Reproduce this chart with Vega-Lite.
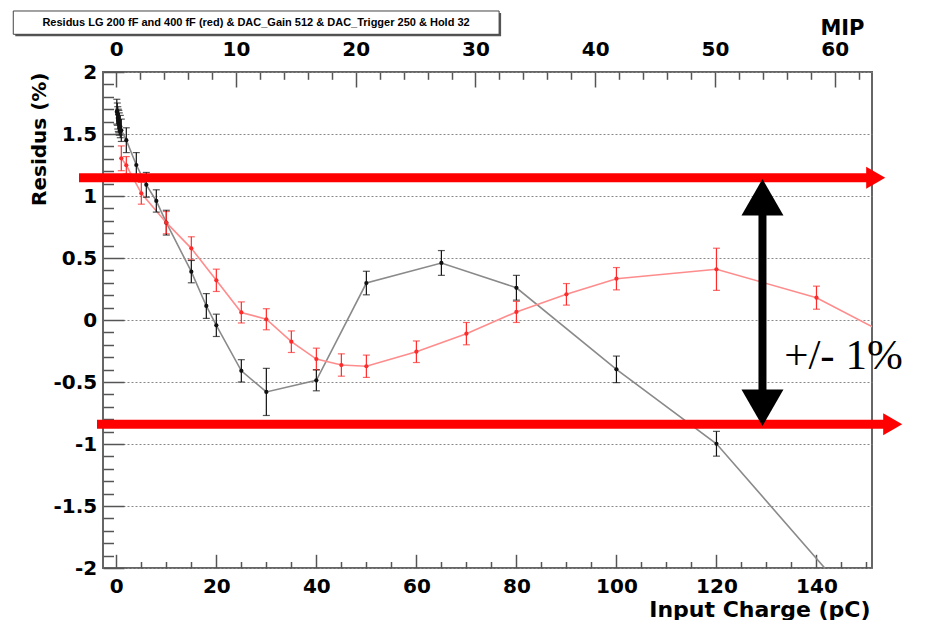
{
  "$schema": "https://vega.github.io/schema/vega-lite/v6.json",
  "width": 769,
  "height": 496,
  "autosize": {"type": "none"},
  "padding": {"left": 103, "top": 72, "right": 54, "bottom": 52},
  "background": "white",
  "config": {
    "view": {"stroke": "#666", "strokeWidth": 2},
    "axis": {
      "labelFont": "DejaVu Sans", "labelFontWeight": "bold", "labelFontSize": 20, "labelColor": "#000",
      "titleFont": "DejaVu Sans", "titleFontWeight": "bold", "titleColor": "#000",
      "domain": false, "tickColor": "#555", "tickWidth": 1.5, "labelOverlap": false, "labelFlush": false, "grid": false
    }
  },
  "data": {"values": [
    {"series": "200 fF", "pC": 0.1, "res": 1.68, "err": 0.1},
    {"series": "200 fF", "pC": 0.2, "res": 1.66, "err": 0.09},
    {"series": "200 fF", "pC": 0.3, "res": 1.63, "err": 0.09},
    {"series": "200 fF", "pC": 0.4, "res": 1.61, "err": 0.09},
    {"series": "200 fF", "pC": 0.5, "res": 1.6, "err": 0.09},
    {"series": "200 fF", "pC": 0.6, "res": 1.58, "err": 0.09},
    {"series": "200 fF", "pC": 0.8, "res": 1.56, "err": 0.09},
    {"series": "200 fF", "pC": 1, "res": 1.53, "err": 0.09},
    {"series": "200 fF", "pC": 2, "res": 1.45, "err": 0.1},
    {"series": "200 fF", "pC": 4, "res": 1.25, "err": 0.1},
    {"series": "200 fF", "pC": 6, "res": 1.09, "err": 0.1},
    {"series": "200 fF", "pC": 8, "res": 0.96, "err": 0.09},
    {"series": "200 fF", "pC": 10, "res": 0.785, "err": 0.1},
    {"series": "200 fF", "pC": 15, "res": 0.39, "err": 0.09},
    {"series": "200 fF", "pC": 18, "res": 0.113, "err": 0.1},
    {"series": "200 fF", "pC": 20, "res": -0.043, "err": 0.09},
    {"series": "200 fF", "pC": 25, "res": -0.41, "err": 0.09},
    {"series": "200 fF", "pC": 30, "res": -0.58, "err": 0.19},
    {"series": "200 fF", "pC": 40, "res": -0.486, "err": 0.085},
    {"series": "200 fF", "pC": 50, "res": 0.298, "err": 0.095},
    {"series": "200 fF", "pC": 65, "res": 0.46, "err": 0.1},
    {"series": "200 fF", "pC": 80, "res": 0.26, "err": 0.1},
    {"series": "200 fF", "pC": 100, "res": -0.398, "err": 0.107},
    {"series": "200 fF", "pC": 120, "res": -0.998, "err": 0.1},
    {"series": "200 fF", "pC": 160, "res": -2.85, "err": 0.1},
    {"series": "400 fF", "pC": 1, "res": 1.304, "err": 0.1},
    {"series": "400 fF", "pC": 2, "res": 1.248, "err": 0.07},
    {"series": "400 fF", "pC": 5, "res": 1.022, "err": 0.088},
    {"series": "400 fF", "pC": 10, "res": 0.785, "err": 0.09},
    {"series": "400 fF", "pC": 15, "res": 0.578, "err": 0.093},
    {"series": "400 fF", "pC": 20, "res": 0.32, "err": 0.09},
    {"series": "400 fF", "pC": 25, "res": 0.061, "err": 0.085},
    {"series": "400 fF", "pC": 30, "res": 0.006, "err": 0.085},
    {"series": "400 fF", "pC": 35, "res": -0.175, "err": 0.087},
    {"series": "400 fF", "pC": 40, "res": -0.315, "err": 0.088},
    {"series": "400 fF", "pC": 45, "res": -0.363, "err": 0.09},
    {"series": "400 fF", "pC": 50, "res": -0.373, "err": 0.09},
    {"series": "400 fF", "pC": 60, "res": -0.256, "err": 0.087},
    {"series": "400 fF", "pC": 70, "res": -0.11, "err": 0.09},
    {"series": "400 fF", "pC": 80, "res": 0.065, "err": 0.085},
    {"series": "400 fF", "pC": 90, "res": 0.207, "err": 0.087},
    {"series": "400 fF", "pC": 100, "res": 0.333, "err": 0.09},
    {"series": "400 fF", "pC": 120, "res": 0.409, "err": 0.17},
    {"series": "400 fF", "pC": 140, "res": 0.18, "err": 0.093},
    {"series": "400 fF", "pC": 160, "res": -0.24, "err": 0.09}
  ]},
  "resolve": {"axis": {"x": "independent", "y": "independent"}},
  "layer": [
    {
      "mark": {"type": "line", "clip": true, "strokeWidth": 1.6},
      "encoding": {
        "x": {"field": "pC", "type": "quantitative", "scale": {"domain": [-2.66, 151.1], "nice": false, "zero": false},
          "axis": {
            "orient": "bottom",
            "values": [0, 20, 40, 60, 80, 100, 120, 140],
            "labelExpr": "'' + datum.value",
            "tickSize": -13.7,
            "labelPadding": 22.2,
            "title": "Input Charge (pC)", "titleFontSize": 22,
            "titleX": 767, "titleY": 48, "titleAlign": "right", "titleBaseline": "alphabetic", "titleAnchor": null
          }
        },
        "y": {"field": "res", "type": "quantitative", "scale": {"domain": [-2, 2], "nice": false, "zero": false},
          "axis": {
            "orient": "left",
            "values": [-2, -1.5, -1, -0.5, 0, 0.5, 1, 1.5, 2],
            "labelExpr": "'' + datum.value",
            "tickSize": -21,
            "labelPadding": 27.3,
            "grid": true,
            "gridColor": "#888", "gridDash": [2, 2], "gridWidth": 1,
            "title": "Residus (%)", "titleFontSize": 20,
            "titleX": -58, "titleY": 0, "titleAngle": -90, "titleAlign": "right", "titleBaseline": "alphabetic", "titleAnchor": null
          }
        },
        "stroke": {"field": "series", "type": "nominal", "scale": {"domain": ["200 fF", "400 fF"], "range": ["#8a8a8a", "#ff8c8c"]}, "legend": null}
      }
    },
    {
      "transform": [{"filter": "datum.pC < 151"}],
      "mark": {"type": "errorbar", "ticks": {"size": 7}, "thickness": 1.2},
      "encoding": {
        "x": {"field": "pC", "type": "quantitative", "scale": {"domain": [-2.66, 151.1], "nice": false, "zero": false}, "axis": null},
        "y": {"field": "res", "type": "quantitative", "scale": {"domain": [-2, 2], "nice": false, "zero": false}, "axis": null},
        "yError": {"field": "err"},
        "color": {"field": "series", "type": "nominal", "scale": {"domain": ["200 fF", "400 fF"], "range": ["#111111", "#ff2a2a"]}, "legend": null}
      }
    },
    {
      "transform": [{"filter": "datum.pC < 151"}],
      "mark": {"type": "point", "filled": true, "size": 18, "opacity": 1},
      "encoding": {
        "x": {"field": "pC", "type": "quantitative", "scale": {"domain": [-2.66, 151.1], "nice": false, "zero": false},
          "axis": {
            "orient": "top",
            "values": [0, 23.94, 47.88, 71.82, 95.76, 119.7, 143.64],
            "labelExpr": "'' + round(datum.value/2.394)",
            "tickSize": -15,
            "labelPadding": 28,
            "title": "MIP", "titleFontSize": 21,
            "titleX": 761, "titleY": -38, "titleAlign": "right", "titleBaseline": "alphabetic", "titleAnchor": null
          }
        },
        "y": {"field": "res", "type": "quantitative", "scale": {"domain": [-2, 2], "nice": false, "zero": false},
          "axis": {
            "orient": "left",
            "values": [-1.9,-1.8,-1.7,-1.6,-1.4,-1.3,-1.2,-1.1,-0.9,-0.8,-0.7,-0.6,-0.4,-0.3,-0.2,-0.1,0.1,0.2,0.3,0.4,0.6,0.7,0.8,0.9,1.1,1.2,1.3,1.4,1.6,1.7,1.8,1.9],
            "labels": false, "tickSize": -10.5, "title": null, "grid": false
          }
        },
        "color": {"field": "series", "type": "nominal", "scale": {"domain": ["200 fF", "400 fF"], "range": ["#111111", "#ff2a2a"]}, "legend": null}
      }
    },
    {
      "data": {"values": [
        {"x1": -7.46, "x2": 151.84, "y": 1.148},
        {"x1": -3.86, "x2": 155.24, "y": -0.841}
      ]},
      "mark": {"type": "rule", "color": "#ff0000", "strokeWidth": 9},
      "encoding": {
        "x": {"field": "x1", "type": "quantitative", "scale": {"domain": [-2.66, 151.1], "nice": false, "zero": false},
          "axis": {
            "orient": "bottom",
            "values": [5,10,15,25,30,35,45,50,55,65,70,75,85,90,95,105,110,115,125,130,135,145,150],
            "labels": false, "tickSize": -6.5, "title": null, "grid": false
          }
        },
        "x2": {"field": "x2"},
        "y": {"field": "y", "type": "quantitative", "scale": {"domain": [-2, 2], "nice": false, "zero": false}, "axis": null}
      }
    },
    {
      "data": {"values": [
        {"x": 151.84, "y": 1.148},
        {"x": 155.24, "y": -0.841}
      ]},
      "mark": {"type": "point", "shape": "triangle-right", "size": 484, "filled": true, "color": "#ff0000", "opacity": 1, "strokeWidth": 0},
      "encoding": {
        "x": {"field": "x", "type": "quantitative", "scale": {"domain": [-2.66, 151.1], "nice": false, "zero": false},
          "axis": {
            "orient": "top",
            "values": [4.788,9.576,14.364,19.152,28.728,33.516,38.304,43.092,52.668,57.456,62.244,67.032,76.608,81.396,86.184,90.972,100.548,105.336,110.124,114.912,124.488,129.276,134.064,138.852,148.428],
            "labels": false, "tickSize": -7.3, "title": null, "grid": false
          }
        },
        "y": {"field": "y", "type": "quantitative", "scale": {"domain": [-2, 2], "nice": false, "zero": false}, "axis": null}
      }
    },
    {
      "data": {"values": [{"x": 129.2, "y1": 0.99, "y2": -0.708}]},
      "mark": {"type": "rule", "color": "#000000", "strokeWidth": 8},
      "encoding": {
        "x": {"field": "x", "type": "quantitative", "scale": {"domain": [-2.66, 151.1], "nice": false, "zero": false}, "axis": null},
        "y": {"field": "y1", "type": "quantitative", "scale": {"domain": [-2, 2], "nice": false, "zero": false}, "axis": null},
        "y2": {"field": "y2"}
      }
    },
    {
      "data": {"values": [
        {"x": 129.2, "y": 0.99, "dir": "up"},
        {"x": 129.2, "y": -0.708, "dir": "down"}
      ]},
      "mark": {"type": "point", "size": 1764, "filled": true, "color": "#000000", "opacity": 1, "strokeWidth": 0},
      "encoding": {
        "x": {"field": "x", "type": "quantitative", "scale": {"domain": [-2.66, 151.1], "nice": false, "zero": false}, "axis": null},
        "y": {"field": "y", "type": "quantitative", "scale": {"domain": [-2, 2], "nice": false, "zero": false}, "axis": null},
        "shape": {"field": "dir", "type": "nominal", "scale": {"domain": ["up", "down"], "range": ["triangle-up", "triangle-down"]}, "legend": null}
      }
    },
    {
      "data": {"values": [{"x": 133.54, "y": -0.393, "label": "+/- 1%"}]},
      "mark": {"type": "text", "align": "left", "baseline": "alphabetic", "font": "Liberation Serif", "fontSize": 43, "color": "#000000"},
      "encoding": {
        "x": {"field": "x", "type": "quantitative", "scale": {"domain": [-2.66, 151.1], "nice": false, "zero": false}, "axis": null},
        "y": {"field": "y", "type": "quantitative", "scale": {"domain": [-2, 2], "nice": false, "zero": false}, "axis": null},
        "text": {"field": "label"}
      }
    },
    {
      "data": {"values": [{"x1": -20.2, "x2": 76.94, "y1": 2.288, "y2": 2.476}]},
      "mark": {"type": "rect", "color": "#555555", "opacity": 1},
      "encoding": {
        "x": {"field": "x1", "type": "quantitative", "scale": {"domain": [-2.66, 151.1], "nice": false, "zero": false}, "axis": null},
        "x2": {"field": "x2"},
        "y": {"field": "y1", "type": "quantitative", "scale": {"domain": [-2, 2], "nice": false, "zero": false}, "axis": null},
        "y2": {"field": "y2"}
      }
    },
    {
      "data": {"values": [{"x1": -20.6, "x2": 76.54, "y1": 2.304, "y2": 2.492}]},
      "mark": {"type": "rect", "fill": "#ffffff", "stroke": "#444444", "strokeWidth": 1, "opacity": 1},
      "encoding": {
        "x": {"field": "x1", "type": "quantitative", "scale": {"domain": [-2.66, 151.1], "nice": false, "zero": false}, "axis": null},
        "x2": {"field": "x2"},
        "y": {"field": "y1", "type": "quantitative", "scale": {"domain": [-2, 2], "nice": false, "zero": false}, "axis": null},
        "y2": {"field": "y2"}
      }
    },
    {
      "data": {"values": [{"x": 27.94, "y": 2.395, "label": "Residus LG 200 fF and 400 fF (red) & DAC_Gain 512 & DAC_Trigger 250 & Hold 32"}]},
      "mark": {"type": "text", "align": "center", "baseline": "middle", "font": "Liberation Sans", "fontSize": 11, "fontWeight": 600, "color": "#000000"},
      "encoding": {
        "x": {"field": "x", "type": "quantitative", "scale": {"domain": [-2.66, 151.1], "nice": false, "zero": false}, "axis": null},
        "y": {"field": "y", "type": "quantitative", "scale": {"domain": [-2, 2], "nice": false, "zero": false}, "axis": null},
        "text": {"field": "label"}
      }
    }
  ]
}
